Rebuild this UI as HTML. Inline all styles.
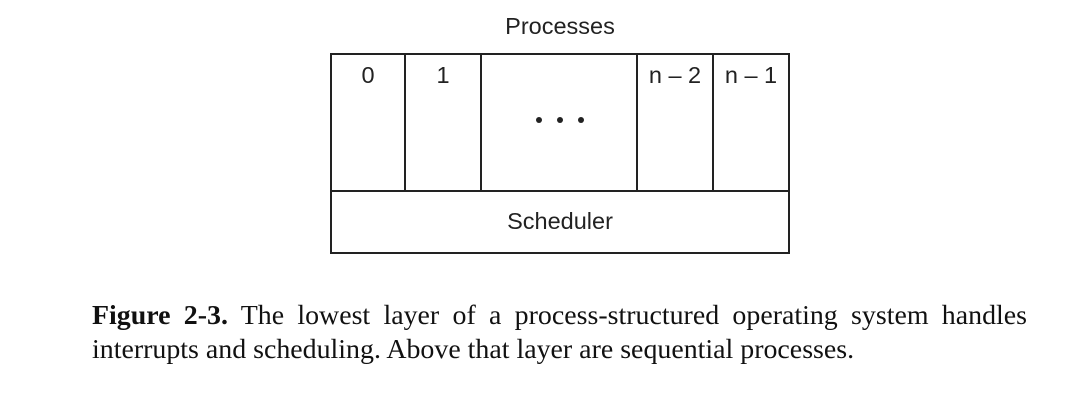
<!DOCTYPE html>
<html><head><style>
body{margin:0;width:1080px;height:411px;background:#fff;position:relative;overflow:hidden}
.t{position:absolute;font-family:"Liberation Sans",sans-serif;font-size:23.5px;color:#222;white-space:nowrap}
.l1{position:absolute;left:92px;top:299px;width:935px;font-family:"Liberation Serif",serif;font-size:27.9px;line-height:34px;color:#111;text-align:justify;text-align-last:justify;white-space:nowrap}
.l2{position:absolute;left:92px;top:333px;font-family:"Liberation Serif",serif;font-size:27.9px;line-height:34px;color:#111;white-space:nowrap}
</style></head><body>
<svg width="1080" height="411" style="position:absolute;left:0;top:0">
<g stroke="#222" stroke-width="2" fill="none">
<rect x="331" y="54" width="458" height="199"/>
<line x1="331" y1="191" x2="789" y2="191"/>
<line x1="405" y1="54" x2="405" y2="191"/>
<line x1="481" y1="54" x2="481" y2="191"/>
<line x1="637" y1="54" x2="637" y2="191"/>
<line x1="713" y1="54" x2="713" y2="191"/>
</g>
<g fill="#222"><circle cx="539" cy="120" r="3"/><circle cx="560" cy="120" r="3"/><circle cx="581" cy="120" r="3"/></g>
</svg>
<div class="t" style="left:0;width:1120px;text-align:center;top:13px">Processes</div>
<div class="t" style="left:331px;width:74px;text-align:center;top:62px">0</div>
<div class="t" style="left:405px;width:76px;text-align:center;top:62px">1</div>
<div class="t" style="left:637px;width:76px;text-align:center;top:62px">n – 2</div>
<div class="t" style="left:713px;width:76px;text-align:center;top:62px">n – 1</div>
<div class="t" style="left:331px;width:458px;text-align:center;top:208px">Scheduler</div>
<div class="l1"><b>Figure 2-3.</b> The lowest layer of a process-structured operating system handles</div>
<div class="l2">interrupts and scheduling. Above that layer are sequential processes.</div>
</body></html>
